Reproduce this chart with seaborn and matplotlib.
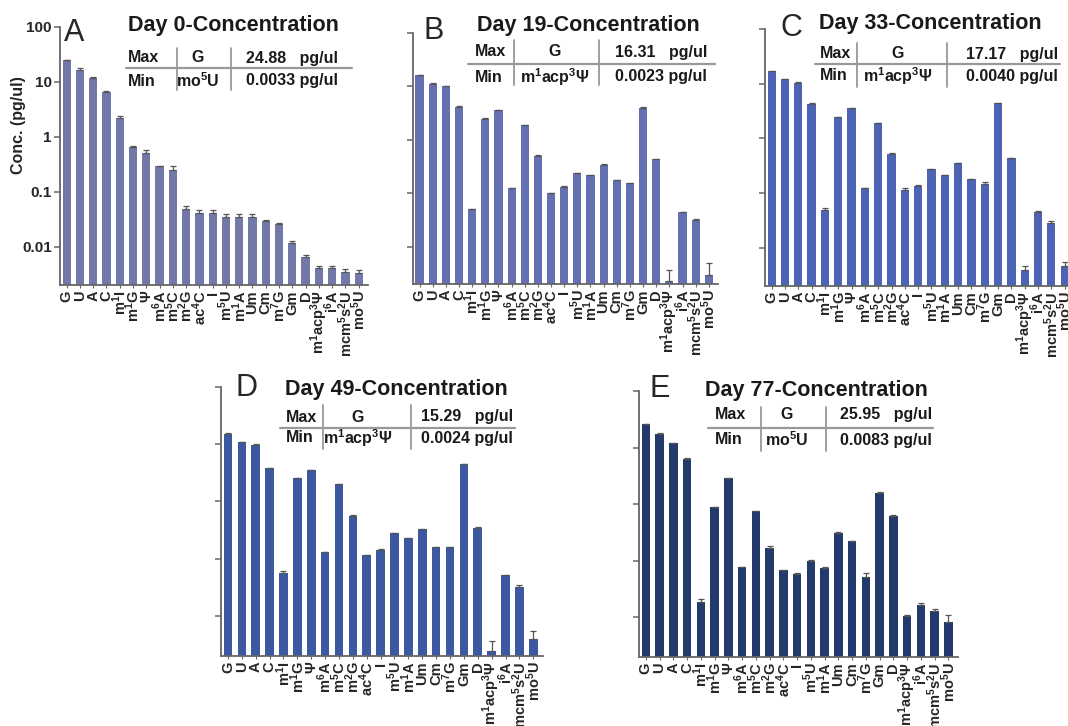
import numpy as np
import matplotlib
matplotlib.use('Agg')
import matplotlib.pyplot as plt
from matplotlib.lines import Line2D
import seaborn as sns

# Nucleoside names (x axis), same order in all panels
labels = ['G', 'U', 'A', 'C', 'm$^1$I', 'm$^1$G', 'Ψ', 'm$^6$A', 'm$^5$C', 'm$^2$G',
          'ac$^4$C', 'I', 'm$^5$U', 'm$^1$A', 'Um', 'Cm', 'm$^7$G', 'Gm', 'D',
          'm$^1$acp$^3$Ψ', 'i$^6$A', 'mcm$^5$s$^2$U', 'mo$^5$U']

# Concentrations (pg/ul)
conc_day0 = [24.88, 16.2, 11.7, 6.5, 2.2, 0.65, 0.50, 0.29, 0.25, 0.049, 0.041, 0.041,
             0.035, 0.035, 0.035, 0.029, 0.026, 0.0115, 0.0064, 0.0040, 0.0040, 0.0034, 0.0033]
conc_day19 = [16.31, 11.2, 10.0, 4.2, 0.050, 2.5, 3.6, 0.124, 1.9, 0.49, 0.10, 0.133,
              0.237, 0.22, 0.34, 0.175, 0.155, 4.0, 0.43, 0.0023, 0.044, 0.031, 0.0030]
conc_day33 = [17.17, 12.1, 10.4, 4.3, 0.050, 2.43, 3.6, 0.123, 1.88, 0.51, 0.116, 0.135,
              0.27, 0.215, 0.35, 0.18, 0.149, 4.4, 0.43, 0.0040, 0.046, 0.028, 0.0046]
conc_day49 = [15.29, 10.8, 9.8, 3.8, 0.056, 2.56, 3.53, 0.13, 2.04, 0.55, 0.115, 0.145,
              0.28, 0.23, 0.33, 0.16, 0.16, 4.5, 0.35, 0.0024, 0.051, 0.032, 0.0040]
conc_day77 = [25.95, 17.5, 11.9, 6.4, 0.019, 0.88, 2.9, 0.078, 0.75, 0.17, 0.069, 0.059,
              0.10, 0.076, 0.31, 0.22, 0.051, 1.57, 0.63, 0.0107, 0.0168, 0.0128, 0.0083]

# Upper error bars
err_day0 = [0.5, 1.5, 0.8, 0.3, 0.15, 0.03, 0.08, 0.01, 0.05, 0.005, 0.005, 0.005,
            0.004, 0.004, 0.004, 0.002, 0.001, 0.001, 0.0007, 0.0004, 0.0004, 0.0005, 0.0004]
err_day19 = [0.2, 0.2, 0.1, 0.05, 0.001, 0.03, 0.04, 0.002, 0.02, 0.03, 0.002, 0.002,
             0.003, 0.003, 0.01, 0.002, 0.002, 0.05, 0.005, 0.0013, 0.001, 0.002, 0.0019]
err_day33 = [0.2, 0.3, 0.15, 0.05, 0.003, 0.03, 0.04, 0.002, 0.02, 0.03, 0.006, 0.003,
             0.004, 0.003, 0.01, 0.002, 0.012, 0.05, 0.005, 0.0006, 0.002, 0.003, 0.0008]
err_day49 = [0.2, 0.2, 0.1, 0.05, 0.004, 0.03, 0.04, 0.002, 0.02, 0.04, 0.002, 0.004,
             0.003, 0.003, 0.005, 0.002, 0.002, 0.05, 0.004, 0.0013, 0.002, 0.003, 0.0015]
err_day77 = [0.3, 0.3, 0.2, 0.1, 0.002, 0.01, 0.06, 0.001, 0.01, 0.015, 0.001, 0.002,
             0.002, 0.001, 0.01, 0.003, 0.009, 0.06, 0.01, 0.0004, 0.0012, 0.0015, 0.0027]

# Max / Min tables
days = ['0', '19', '33', '49', '77']
max_names = ['G', 'G', 'G', 'G', 'G']
max_vals = ['24.88', '16.31', '17.17', '15.29', '25.95']
min_names = ['mo$^5$U', 'm$^1$acp$^3$Ψ', 'm$^1$acp$^3$Ψ', 'm$^1$acp$^3$Ψ', 'mo$^5$U']
min_vals = ['0.0033', '0.0023', '0.0040', '0.0024', '0.0083']
letters = ['A', 'B', 'C', 'D', 'E']

concs = [conc_day0, conc_day19, conc_day33, conc_day49, conc_day77]
errs = [err_day0, err_day19, err_day33, err_day49, err_day77]
colors = ['#7378aa', '#6570b2', '#4d63b6', '#3c58a0', '#233a6c']

sns.set_style('ticks')
plt.rcParams['font.family'] = ['Liberation Sans', 'DejaVu Sans']
plt.rcParams['mathtext.fontset'] = 'custom'
plt.rcParams['mathtext.rm'] = 'Liberation Sans:bold'
plt.rcParams['mathtext.bf'] = 'Liberation Sans:bold'
plt.rcParams['mathtext.default'] = 'bf'

W, H = 1068, 726
fig = plt.figure(figsize=(W / 100, H / 100), dpi=100)

def fx(x):
    return x / W

def fy(y):
    return 1 - y / H

# axes boxes in pixels: left, right, top, bottom
boxes = [(60, 368, 27, 285), (413, 718, 33, 284), (765, 1074, 29, 286),
         (221, 543, 387, 656), (639, 958, 391, 657)]
# letter x, letter y(center), title left, title y, max-left, row1 y, row2 y,
# hline x0, x1, hline y, vline1, vline2, vtop, vbot, col2 center, col3 right
layouts = [
    (64, 33, 128, 25, 128, 58, 81, 126, 352, 68, 177, 231, 48, 90, 198, 338),
    (423, 31, 477, 25, 475, 52, 77, 468, 715, 64, 514, 599, 40, 85, 555, 707),
    (781, 28, 819, 23, 820, 54, 76, 815, 1060, 64, 857, 947, 43, 87, 898, 1058),
    (235, 388, 285, 390, 286, 417, 438, 280, 515, 428, 323, 411, 405, 449, 358, 513),
    (650, 389, 705, 391, 715, 415, 440, 708, 933, 428, 761, 826, 407, 451, 787, 932),
]

for i in range(5):
    l, r, t, b = boxes[i]
    ax = fig.add_axes([fx(l), fy(b), (r - l) / W, (b - t) / H])
    sns.barplot(x=list(range(len(labels))), y=concs[i], color=colors[i], width=0.62,
                errorbar=None, ax=ax, linewidth=0, saturation=1)
    ax.errorbar(range(len(labels)), concs[i],
                yerr=[np.zeros(len(labels)), errs[i]], fmt='none',
                ecolor='#555555', elinewidth=0.9, capsize=2.2, capthick=0.9)
    ax.set_yscale('log')
    ax.set_ylim(0.002, 100)
    ax.set_xlim(-0.5, 22.7)
    ax.set_yticks([100, 10, 1, 0.1, 0.01])
    ax.yaxis.set_minor_locator(matplotlib.ticker.NullLocator())
    ax.set_xticks(range(len(labels)))
    ax.set_xticklabels(labels, rotation=90, fontsize=10.5, fontweight='bold')
    if i == 0:
        ax.set_yticklabels(['100', '10', '1', '0.1', '0.01'], fontsize=11, fontweight='bold')
        ax.set_ylabel('Conc. (pg/ul)', fontsize=11.5, fontweight='bold')
        ax.yaxis.set_label_coords(-0.11, 0.62)
    else:
        ax.set_yticklabels([])
        ax.set_ylabel('')
    ax.set_xlabel('')
    sns.despine(ax=ax)
    for s in ['left', 'bottom']:
        ax.spines[s].set_color('#666666')
        ax.spines[s].set_linewidth(1.3)
    ax.tick_params(axis='y', length=4, width=1.1, color='#666666', pad=2)
    ax.tick_params(axis='x', length=2.5, width=0.8, color='#666666', pad=1.5)

    (lx, ly, tx, ty, mx, r1, r2, hx0, hx1, hy, v1, v2, vt, vb, c2, c3) = layouts[i]
    fig.text(fx(lx), fy(ly), letters[i], fontsize=22, ha='left', va='center')
    fig.text(fx(tx), fy(ty), 'Day ' + days[i] + '-Concentration', fontsize=15.5,
             fontweight='bold', ha='left', va='center', color='#1a1a1a')
    fig.text(fx(mx), fy(r1), 'Max', fontsize=11.5, fontweight='bold', ha='left', va='center', color='#1a1a1a')
    fig.text(fx(mx), fy(r2), 'Min', fontsize=11.5, fontweight='bold', ha='left', va='center', color='#1a1a1a')
    fig.text(fx(c2), fy(r1), max_names[i], fontsize=11.5, fontweight='bold', ha='center', va='center', color='#1a1a1a')
    fig.text(fx(c2), fy(r2), min_names[i], fontsize=11.5, fontweight='bold', ha='center', va='center', color='#1a1a1a')
    fig.text(fx(c3), fy(r1), max_vals[i] + '   pg/ul', fontsize=11.5, fontweight='bold', ha='right', va='center', color='#1a1a1a')
    fig.text(fx(c3), fy(r2), min_vals[i] + ' pg/ul', fontsize=11.5, fontweight='bold', ha='right', va='center', color='#1a1a1a')
    fig.add_artist(Line2D([fx(hx0), fx(hx1)], [fy(hy), fy(hy)], color='#999999', lw=1.6))
    for vx in [v1, v2]:
        fig.add_artist(Line2D([fx(vx), fx(vx)], [fy(vt), fy(vb)], color='#999999', lw=1.3))

fig.savefig('out.png', dpi=100)
